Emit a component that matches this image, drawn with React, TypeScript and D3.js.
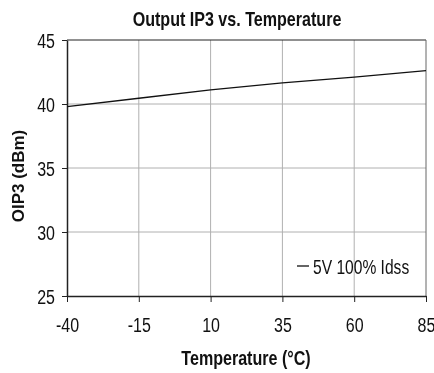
import { useRef, useEffect } from 'react';
import * as d3 from 'd3';

const temperatures = [-40, -15, 10, 35, 60, 85];
const oip3 = [39.8, 40.45, 41.1, 41.65, 42.1, 42.6];
const yTicks = [25, 30, 35, 40, 45];
const seriesName = '5V 100% Idss';

const sans = "'Liberation Sans', Arial, sans-serif";
// no narrow face installed, squeeze Liberation Sans instead
const squeeze = 0.8;

export default function App() {
    const ref = useRef<HTMLDivElement>(null);

    useEffect(() => {
        if (!ref.current) return;
        document.body.style.overflow = 'hidden';
        const w = 434;
        const h = 373;
        const m = { top: 40, right: 8, bottom: 77, left: 67 };
        d3.select(ref.current).selectAll('*').remove();
        const svg = d3
            .select(ref.current)
            .append('svg')
            .attr('width', w)
            .attr('height', h)
            .style('display', 'block')
            .style('overflow', 'hidden');

        const x = d3.scaleLinear().domain([-40, 85]).range([m.left, w - m.right]);
        const y = d3.scaleLinear().domain([25, 45]).range([h - m.bottom, m.top]);

        // grid
        svg
            .append('g')
            .selectAll('line')
            .data(temperatures.slice(1, -1))
            .join('line')
            .attr('x1', (d) => x(d))
            .attr('x2', (d) => x(d))
            .attr('y1', y(45))
            .attr('y2', y(25))
            .attr('stroke', '#b0b0b0')
            .attr('stroke-width', 1);
        svg
            .append('g')
            .selectAll('line')
            .data(yTicks.slice(1, -1))
            .join('line')
            .attr('x1', x(-40))
            .attr('x2', x(85))
            .attr('y1', (d) => y(d))
            .attr('y2', (d) => y(d))
            .attr('stroke', '#b0b0b0')
            .attr('stroke-width', 1);

        // frame
        svg
            .append('line')
            .attr('x1', x(-40))
            .attr('x2', x(85))
            .attr('y1', y(45))
            .attr('y2', y(45))
            .attr('stroke', '#222');
        svg
            .append('line')
            .attr('x1', x(85))
            .attr('x2', x(85))
            .attr('y1', y(45))
            .attr('y2', y(25))
            .attr('stroke', '#666');

        const xAxis = svg
            .append('g')
            .attr('transform', `translate(0,${y(25)})`)
            .call(
                d3
                    .axisBottom(x)
                    .tickValues(temperatures)
                    .tickFormat((d) => String(d))
                    .tickSize(6)
                    .tickSizeOuter(0)
            );
        xAxis.select('.domain').attr('stroke', '#222').attr('stroke-width', 1.5);
        xAxis.selectAll('line').attr('stroke', '#222');
        xAxis
            .selectAll('text')
            .attr('font-family', sans)
            .attr('font-size', 20)
            .attr('fill', '#111')
            .attr('y', 36)
            .attr('dy', 0)
            .attr('transform', `scale(${squeeze},1)`);

        const yAxis = svg
            .append('g')
            .attr('transform', `translate(${x(-40)},0)`)
            .call(
                d3
                    .axisLeft(y)
                    .tickValues(yTicks)
                    .tickFormat((d) => String(d))
                    .tickSize(5)
                    .tickSizeOuter(0)
            );
        yAxis.select('.domain').attr('stroke', '#222').attr('stroke-width', 1.5);
        yAxis.selectAll('line').attr('stroke', '#222');
        yAxis
            .selectAll('text')
            .attr('font-family', sans)
            .attr('font-size', 20)
            .attr('fill', '#111')
            .attr('x', -12 / squeeze)
            .attr('dy', '0.36em')
            .attr('transform', `scale(${squeeze},1)`);

        const line = d3
            .line<number>()
            .x((_, i) => x(temperatures[i]))
            .y((d) => y(d));
        svg
            .append('path')
            .attr('d', line(oip3))
            .attr('fill', 'none')
            .attr('stroke', '#111')
            .attr('stroke-width', 1.3);

        // legend
        svg
            .append('line')
            .attr('x1', 297)
            .attr('x2', 309)
            .attr('y1', 266)
            .attr('y2', 266)
            .attr('stroke', '#111')
            .attr('stroke-width', 1.3);
        svg
            .append('text')
            .attr('transform', `translate(313,274) scale(0.78,1)`)
            .attr('font-family', sans)
            .attr('font-size', 20)
            .attr('fill', '#111')
            .text(seriesName);

        svg
            .append('text')
            .attr('transform', `translate(237,26) scale(0.825,1)`)
            .attr('text-anchor', 'middle')
            .attr('font-family', sans)
            .attr('font-weight', 'bold')
            .attr('font-size', 19.5)
            .attr('fill', '#111')
            .text('Output IP3 vs. Temperature');

        svg
            .append('text')
            .attr('transform', `translate(246,365) scale(0.825,1)`)
            .attr('text-anchor', 'middle')
            .attr('font-family', sans)
            .attr('font-weight', 'bold')
            .attr('font-size', 19.5)
            .attr('fill', '#111')
            .text('Temperature (°C)');

        svg
            .append('text')
            .attr('transform', `translate(24,176) rotate(-90)`)
            .attr('text-anchor', 'middle')
            .attr('font-family', sans)
            .attr('font-weight', 'bold')
            .attr('font-size', 17)
            .attr('fill', '#111')
            .text('OIP3 (dBm)');
    }, []);

    return <div ref={ref} style={{ position: 'fixed', left: 0, top: 0 }} />;
}
